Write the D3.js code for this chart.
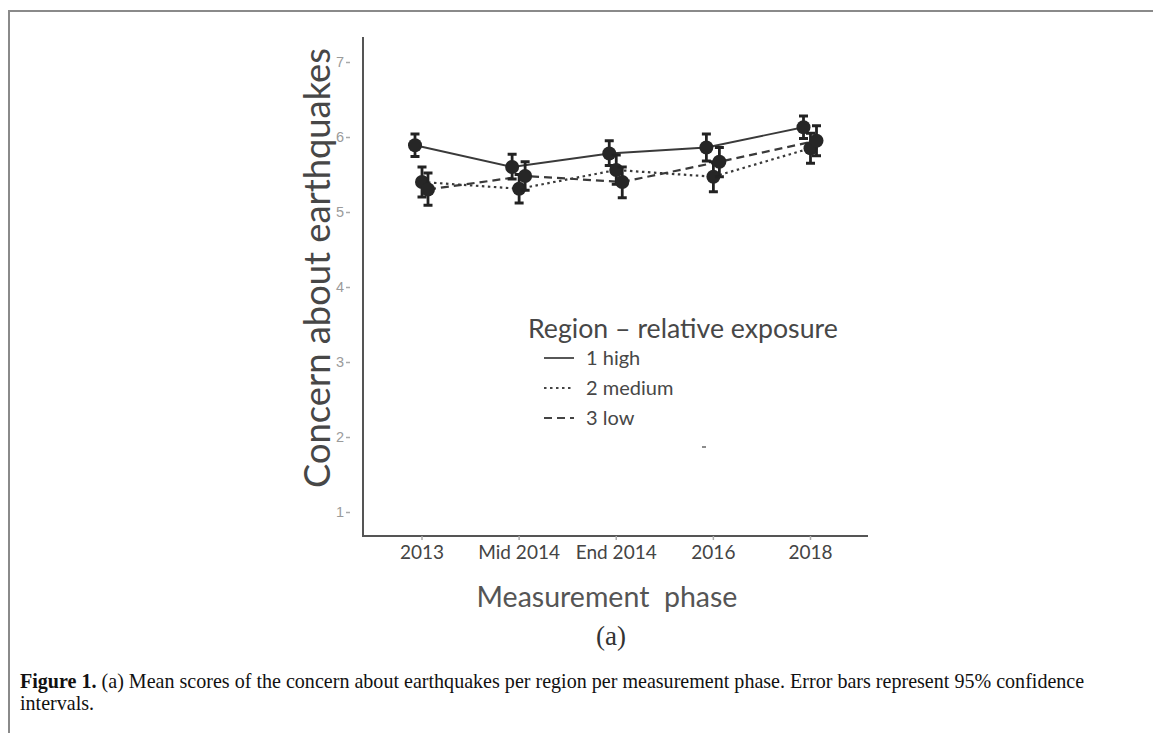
<!DOCTYPE html>
<html><head><meta charset="utf-8">
<script src="https://cdn.jsdelivr.net/npm/d3@7"></script>
<style>body{margin:0;background:#fff}</style></head>
<body>
<svg id="c" width="1153" height="733"></svg>
<script>
// ---- data ----
const phases = ["2013", "Mid 2014", "End 2014", "2016", "2018"];
const regions = ["1 high", "2 medium", "3 low"];
const highMean = [5.89, 5.60, 5.78, 5.86, 6.13];
const highLow  = [5.74, 5.44, 5.62, 5.68, 5.98];
const highHigh = [6.04, 5.77, 5.95, 6.04, 6.28];
const mediumMean = [5.40, 5.31, 5.56, 5.47, 5.85];
const mediumLow  = [5.20, 5.12, 5.37, 5.27, 5.65];
const mediumHigh = [5.60, 5.50, 5.76, 5.67, 6.05];
const lowMean = [5.30, 5.48, 5.40, 5.67, 5.95];
const lowLow  = [5.09, 5.29, 5.19, 5.47, 5.75];
const lowHigh = [5.52, 5.67, 5.60, 5.86, 6.15];
const yTicks = [1, 2, 3, 4, 5, 6, 7];
const legendTitle = "Region \u2013 relative exposure";
const xTitle = "Measurement  phase";
const yTitle = "Concern about earthquakes";
const panelLabel = "(a)";
const captionBold = "Figure 1.";
const captionLine1 = " (a) Mean scores of the concern about earthquakes per region per measurement phase. Error bars represent 95% confidence";
const captionLine2 = "intervals.";

const series = [
  {name: regions[0], mean: highMean, lo: highLow, hi: highHigh, dash: null, dodge: -6.5},
  {name: regions[1], mean: mediumMean, lo: mediumLow, hi: mediumHigh, dash: "2.5,3.5", dodge: 0.5},
  {name: regions[2], mean: lowMean, lo: lowLow, hi: lowHigh, dash: "8,5", dodge: 6.5}
];

const svg = d3.select("#c");

// frame
svg.append("line").attr("x1", 9).attr("x2", 1153).attr("y1", 11).attr("y2", 11)
  .attr("stroke", "#8a8a8a").attr("stroke-width", 2);
svg.append("line").attr("x1", 9).attr("x2", 9).attr("y1", 10).attr("y2", 733)
  .attr("stroke", "#8a8a8a").attr("stroke-width", 2);

const x = d3.scalePoint().domain(phases).range([421.5, 810]);
const y = d3.scaleLinear().domain([1, 7]).range([512, 62]);

function fit(sel, target) {
  const n = sel.node();
  const fs = parseFloat(sel.attr("font-size"));
  const w = n.getComputedTextLength();
  if (w > 0) sel.attr("font-size", fs * target / w);
  return sel;
}

// axes lines
svg.append("line").attr("x1", 363).attr("x2", 363).attr("y1", 37).attr("y2", 537)
  .attr("stroke", "#555").attr("stroke-width", 2);
svg.append("line").attr("x1", 362).attr("x2", 868).attr("y1", 536).attr("y2", 536)
  .attr("stroke", "#555").attr("stroke-width", 2);

const gy = svg.append("g").attr("transform", "translate(363,0)")
  .call(d3.axisLeft(y).tickValues(yTicks).tickSize(0).tickPadding(19).tickFormat(d3.format("d")));
gy.select(".domain").remove();
gy.selectAll(".tick text").attr("font-family", "Liberation Sans, Arial, sans-serif")
  .attr("font-size", 14.5).attr("fill", "#9a9a9a");
gy.selectAll(".tick").append("line").attr("x1", -17).attr("x2", -13)
  .attr("stroke", "#aaa").attr("stroke-width", 1.5);

const gx = svg.append("g").attr("transform", "translate(0,536)")
  .call(d3.axisBottom(x).tickSize(4).tickPadding(6));
gx.select(".domain").remove();
gx.selectAll(".tick line").attr("stroke", "#aaa").attr("stroke-width", 1.5);
gx.selectAll(".tick text").attr("font-family", "Lato, sans-serif")
  .attr("font-size", 19).attr("fill", "#444");

// titles
const yt = svg.append("text").attr("transform", "translate(330,268) rotate(-90)")
  .attr("text-anchor", "middle").attr("font-family", "Lato, sans-serif")
  .attr("font-size", 28).attr("fill", "#474747").text(yTitle);
fit(yt, 440);
const xt = svg.append("text").attr("x", 607).attr("y", 607).attr("text-anchor", "middle")
  .attr("font-family", "Lato, sans-serif").attr("font-size", 26).attr("fill", "#555")
  .attr("xml:space", "preserve").style("white-space", "pre").text(xTitle);
fit(xt, 261);
svg.append("text").attr("x", 611).attr("y", 645).attr("text-anchor", "middle")
  .attr("font-family", "Liberation Serif, serif").attr("font-size", 27).attr("fill", "#333")
  .text(panelLabel);

// lines
const line = d3.line().x(d => d.x).y(d => d.y);
series.forEach(s => {
  const pts = phases.map((p, i) => ({x: x(p) + s.dodge, y: y(s.mean[i])}));
  svg.append("path").attr("d", line(pts)).attr("fill", "none")
    .attr("stroke", "#3a3a3a").attr("stroke-width", s.dash ? 2.2 : 1.8)
    .attr("stroke-dasharray", s.dash);
});

// error bars and points
series.forEach(s => {
  const g = svg.append("g");
  phases.forEach((p, i) => {
    const cx = x(p) + s.dodge;
    g.append("line").attr("x1", cx).attr("x2", cx).attr("y1", y(s.lo[i])).attr("y2", y(s.hi[i]))
      .attr("stroke", "#222").attr("stroke-width", 2.8);
    [s.lo[i], s.hi[i]].forEach(v => {
      g.append("line").attr("x1", cx - 4.5).attr("x2", cx + 4.5).attr("y1", y(v)).attr("y2", y(v))
        .attr("stroke", "#222").attr("stroke-width", 3);
    });
    g.append("circle").attr("cx", cx).attr("cy", y(s.mean[i])).attr("r", 7).attr("fill", "#262626");
  });
});

// legend
const lt = svg.append("text").attr("x", 528).attr("y", 338).attr("font-family", "Lato, sans-serif")
  .attr("font-size", 22).attr("fill", "#474747").text(legendTitle);
fit(lt, 310);
const legY = [358, 388, 418];
series.forEach((s, i) => {
  svg.append("line").attr("x1", 544).attr("x2", 574).attr("y1", legY[i]).attr("y2", legY[i])
    .attr("stroke", "#444").attr("stroke-width", 1.8).attr("stroke-dasharray", s.dash);
  svg.append("text").attr("x", 586).attr("y", legY[i]).attr("dy", "0.35em")
    .attr("font-family", "Lato, sans-serif").attr("font-size", 20).attr("fill", "#474747").text(s.name);
});
svg.append("line").attr("x1", 702).attr("x2", 706).attr("y1", 447).attr("y2", 447)
  .attr("stroke", "#666").attr("stroke-width", 1.5);

// caption
const c1 = svg.append("text").attr("x", 20).attr("y", 688)
  .attr("font-family", "Liberation Serif, serif").attr("font-size", 17).attr("fill", "#111");
c1.append("tspan").attr("font-weight", "bold").text(captionBold);
c1.append("tspan").text(captionLine1);
fit(c1, 1065);
const fsCap = c1.attr("font-size");
svg.append("text").attr("x", 20).attr("y", 710).attr("font-family", "Liberation Serif, serif")
  .attr("font-size", fsCap).attr("fill", "#111").text(captionLine2);
</script>
</body></html>
